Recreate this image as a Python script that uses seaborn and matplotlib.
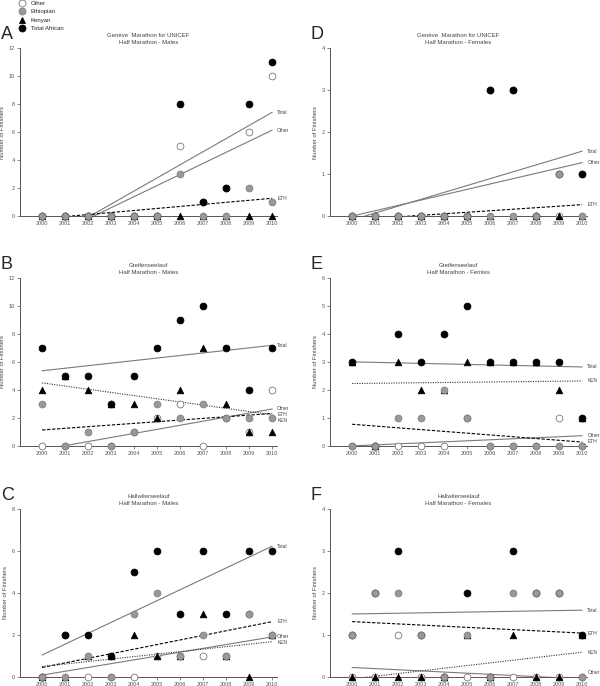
import numpy as np
import matplotlib
matplotlib.use("Agg")
import matplotlib.pyplot as plt
from matplotlib.lines import Line2D
import seaborn as sns

# =====================================================
# Data (finishers per year)
# =====================================================

years = [2000, 2001, 2002, 2003, 2004, 2005, 2006, 2007, 2008, 2009, 2010]

# A - Geneve, males
a_other = [0, 0, 0, 0, 0, 0, 5, 1, 2, 6, 10]
a_eth = [0, 0, 0, 0, 0, 0, 3, 0, 0, 2, 1]
a_ken = [0, 0, 0, 0, 0, 0, 0, 0, 0, 0, 0]
a_total = [0, 0, 0, 0, 0, 0, 8, 1, 2, 8, 11]

# B - Greifenseelauf, males
b_other = [0, 0, 0, 0, 1, 2, 3, 0, 2, 1, 4]
b_eth = [3, 0, 1, 0, 1, 3, 2, 3, 2, 2, 2]
b_ken = [4, 5, 4, 3, 3, 2, 4, 7, 3, 1, 1]
b_total = [7, 5, 5, 3, 5, 7, 9, 10, 7, 4, 7]

# C - Hallwilerseelauf, males
c_other = [0, 2, 0, 0, 0, 1, 1, 1, 1, 3, 2]
c_eth = [0, 0, 1, 0, 3, 4, 1, 2, 1, 3, 2]
c_ken = [0, 0, 1, 1, 2, 1, 1, 3, 1, 0, 2]
c_total = [0, 2, 2, 1, 5, 6, 3, 6, 3, 6, 6]

# D - Geneve, females
d_other = [0, 0, 0, 0, 0, 0, 3, 3, 0, 0, 1]
d_eth = [0, 0, 0, 0, 0, 0, 0, 0, 0, 1, 0]
d_ken = [0, 0, 0, 0, 0, 0, 0, 0, 0, 0, 0]
d_total = [0, 0, 0, 0, 0, 0, 3, 3, 0, 1, 1]

# E - Greifenseelauf, females
e_other = [0, 0, 0, 0, 0, 1, 0, 0, 0, 1, 0]
e_eth = [0, 0, 1, 1, 2, 1, 0, 0, 0, 0, 0]
e_ken = [3, 0, 3, 2, 2, 3, 3, 3, 3, 2, 1]
e_total = [3, 0, 4, 3, 4, 5, 3, 3, 3, 3, 1]

# F - Hallwilerseelauf, females
f_other = [0, 0, 1, 0, 0, 0, 0, 0, 0, 0, 0]
f_eth = [1, 2, 2, 1, 0, 1, 0, 2, 2, 2, 0]
f_ken = [0, 0, 0, 0, 0, 1, 0, 1, 0, 0, 1]
f_total = [1, 2, 3, 1, 0, 2, 0, 3, 2, 2, 1]

# =====================================================
# Style
# =====================================================

sns.set_style("ticks")
plt.rcParams["font.family"] = ["Liberation Sans", "DejaVu Sans"]

AX_COLOR = "#555555"

# name -> marker, face, edge, zorder
MARKERS = {
    "Other": ("o", "white", "#777777", 3),
    "ETH": ("o", "#999999", "#808080", 6),
    "KEN": ("^", "black", "black", 5),
    "Total": ("o", "black", "black", 4),
}

LINES = {
    "Total": dict(color="#7a7a7a", lw=0.8, ls="-"),
    "Other": dict(color="#7a7a7a", lw=0.8, ls="-"),
    "ETH": dict(color="black", lw=0.8, ls=(0, (3, 1.5))),
    "KEN": dict(color="#333333", lw=0.8, ls=(0, (1, 1.2))),
}

panels = [
    ("A", "Genève  Marathon for UNICEF\nHalf Marathon - Males", 12, 2,
     a_other, a_eth, a_ken, a_total, [0.0333, 0.685]),
    ("B", "Greifenseelauf\nHalf Marathon - Males", 12, 2,
     b_other, b_eth, b_ken, b_total, [0.0333, 0.350]),
    ("C", "Hallwilerseelauf\nHalf Marathon - Males", 8, 2,
     c_other, c_eth, c_ken, c_total, [0.0333, 0.0131]),
    ("D", "Genève  Marathon for UNICEF\nHalf Marathon - Females", 4, 1,
     d_other, d_eth, d_ken, d_total, [0.55, 0.685]),
    ("E", "Greifenseelauf\nHalf Marathon - Femles", 6, 1,
     e_other, e_eth, e_ken, e_total, [0.55, 0.350]),
    ("F", "Hallwilerseelauf\nHalf Marathon - Females", 4, 1,
     f_other, f_eth, f_ken, f_total, [0.55, 0.0131]),
]

fig = plt.figure(figsize=(6, 6.86), dpi=100)

for letter, title, ymax, ystep, other, eth, ken, total, (left, bottom) in panels:

    ax = fig.add_axes([left, bottom, 0.428, 0.245])

    series = {"Other": other, "ETH": eth, "KEN": ken, "Total": total}

    # regression lines
    ends = []
    for name in ["Total", "Other", "ETH", "KEN"]:
        vals = series[name]
        if not any(vals):
            continue
        sns.regplot(
            x=years,
            y=vals,
            scatter=False,
            ci=None,
            truncate=True,
            ax=ax,
            line_kws=LINES[name]
        )
        slope, icpt = np.polyfit(years, vals, 1)
        ends.append((name, slope * years[-1] + icpt))

    # points
    for name in ["Other", "Total", "KEN", "ETH"]:
        mk, face, edge, z = MARKERS[name]
        ax.scatter(
            years,
            series[name],
            marker=mk,
            s=24 if mk == "o" else 22,
            facecolor=face,
            edgecolor=edge,
            linewidth=0.6,
            zorder=z,
            clip_on=False
        )

    # line labels, nudged apart
    gap = ymax * 0.033
    floor = ymax * 0.025
    prev = None
    for name, y in sorted(ends, key=lambda t: -t[1]):
        y = max(y, floor)
        if prev is not None and prev - y < gap:
            y = prev - gap
        prev = y
        ax.text(2010.22, y, name, fontsize=3.5, color="#444444",
                ha="left", va="center", clip_on=False)

    ax.set_xlim(1999.04, 2010.2)
    ax.set_ylim(0, ymax)
    ax.set_xticks(years)
    ax.set_xticklabels([str(y) for y in years])
    ax.set_yticks(np.arange(0, ymax + 0.1, ystep))
    ax.set_xlabel("")
    ax.set_ylabel("Number of Finishers", fontsize=4.2, color="#444444",
                  labelpad=3)
    ax.tick_params(axis="both", labelsize=4, colors=AX_COLOR,
                   length=2, width=0.5, pad=1.5)

    sns.despine(ax=ax)
    for sp in ["left", "bottom"]:
        ax.spines[sp].set_color(AX_COLOR)
        ax.spines[sp].set_linewidth(0.7)

    ax.set_title(title, fontsize=4.3, color="#444444", pad=3,
                 linespacing=1.5)

    ax.text(-0.075, 1.03, letter, transform=ax.transAxes,
            fontsize=13, ha="left", va="bottom")

# =====================================================
# Legend
# =====================================================

handles = []
for name in ["Other", "ETH", "KEN", "Total"]:
    mk, face, edge, _ = MARKERS[name]
    handles.append(
        Line2D([], [], ls="none", marker=mk, markersize=5,
               markerfacecolor=face, markeredgecolor=edge,
               markeredgewidth=0.6)
    )

fig.legend(
    handles,
    ["Other", "Ethiopian", "Kenyan", "Total African"],
    loc="upper left",
    bbox_to_anchor=(0.02, 1.005),
    frameon=False,
    fontsize=4.3,
    labelspacing=0.55,
    handletextpad=0.4,
    borderpad=0.2
)

plt.savefig("out.png", dpi=100)
plt.close()
